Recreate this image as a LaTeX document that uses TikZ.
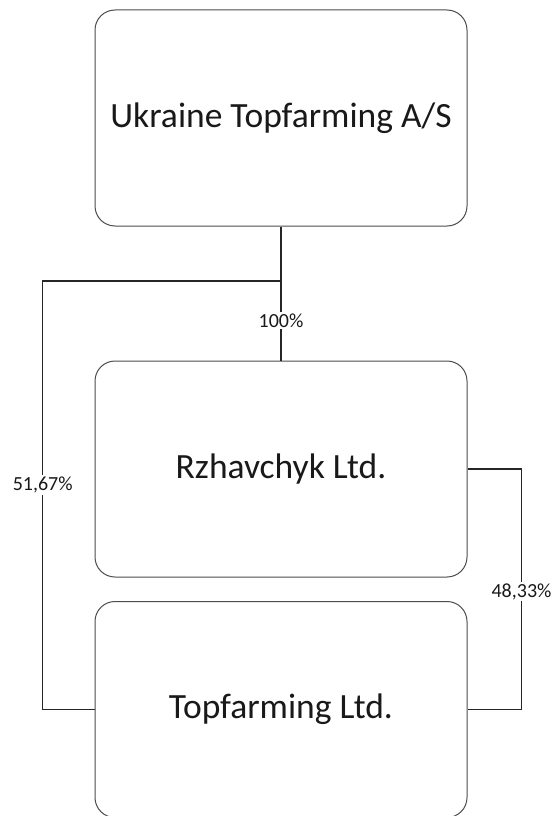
\documentclass[tikz,border=0pt]{standalone}
\usepackage{fontspec}
\setmainfont{Carlito}
\begin{document}
\begin{tikzpicture}[x=1pt,y=-1pt,
  entity/.style={draw=black!70,line width=1pt,rounded corners=20pt,fill=white,
    minimum width=372pt,minimum height=216pt,inner sep=0pt,text=black!90,
    font=\fontsize{35.5}{40}\selectfont},
  link/.style={draw=black!85,line width=1.3pt},
  pct/.style={fill=white,inner sep=1.5pt,text=black!90,font=\fontsize{20}{22}\selectfont}]
\useasboundingbox (0,0) rectangle (555,816);
\node[entity] (top) at (281,118) {Ukraine Topfarming A/S};
\node[entity] (mid) at (281,469) {Rzhavchyk Ltd.};
\node[entity] (bot) at (281,709.5) {Topfarming Ltd.};
\coordinate (j) at (281,281);
\coordinate (l) at (42.7,281);
\coordinate (lb) at (42.7,709.5);
\coordinate (r1) at (521.5,469);
\coordinate (r2) at (521.5,709.5);
\draw[link] (top.south) -- (j);
\draw[link] (j) -- (mid.north) node[pct,pos=0.5] {100\%};
\draw[link] (j) -- (l) -- (lb) -- (bot.west);
\node[pct] (p1) at (42.7,485) {51,67\%};
\draw[link] (mid.east) -- (r1) -- (r2) -- (bot.east);
\node[pct] (p2) at (521.5,591.5) {48,33\%};
\end{tikzpicture}
\end{document}
